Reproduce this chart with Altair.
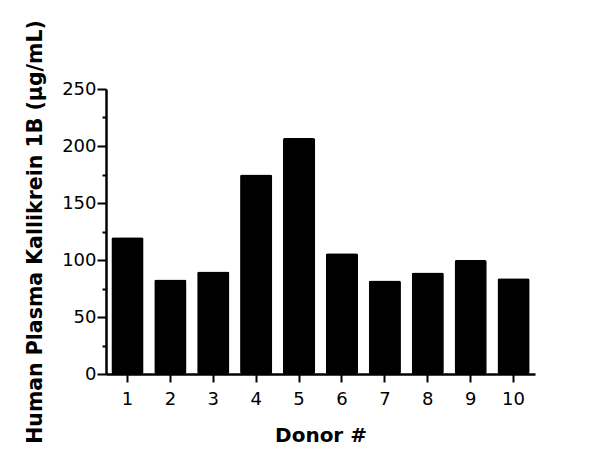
import altair as alt
import pandas as pd

donors = ["1", "2", "3", "4", "5", "6", "7", "8", "9", "10"]
values = [120, 83, 90, 175, 207, 106, 82, 89, 100, 84]
major_ticks = [0, 50, 100, 150, 200, 250]
minor_ticks = [25, 75, 125, 175, 225]

df = pd.DataFrame({"donor": donors, "value": values})

FONT = "DejaVu Sans"

bars = alt.Chart(df).mark_bar(color="black", cornerRadius=2).encode(
    x=alt.X("donor:N", sort=donors,
            scale=alt.Scale(paddingInner=0.25, paddingOuter=0.125),
            axis=alt.Axis(title="Donor #", labelAngle=0, labelFont=FONT, labelFontSize=18,
                          labelColor="black", titleFont=FONT, titleFontSize=20,
                          titleFontWeight="bold", titleColor="black", domainColor="black",
                          domainWidth=2.5, tickColor="black", tickWidth=2, tickSize=8,
                          labelPadding=8, titlePadding=17, grid=False)),
    y=alt.Y("value:Q", scale=alt.Scale(domain=[0, 250], nice=False),
            axis=alt.Axis(title="Human Plasma Kallikrein 1B (µg/mL)", values=major_ticks,
                          orient="left", labelFont=FONT, labelFontSize=18, labelColor="black",
                          titleFont=FONT, titleFontSize=20.5, titleFontWeight="bold",
                          titleColor="black", domainColor="black", domainWidth=2.5,
                          tickColor="black", tickWidth=2, tickSize=9, labelPadding=1,
                          titlePadding=16, grid=False)),
)

minor = alt.Chart(pd.DataFrame({"v": minor_ticks})).mark_point(opacity=0).encode(
    y=alt.Y("v:Q", scale=alt.Scale(domain=[0, 250], nice=False),
            axis=alt.Axis(title=None, values=minor_ticks, orient="left", labels=False,
                          domain=False, tickColor="black", tickWidth=2, tickSize=4,
                          grid=False)),
)

chart = alt.layer(bars, minor).resolve_axis(y="independent").properties(
    width=429, height=285,
    autosize=alt.AutoSizeParams(type="none"),
    padding={"left": 98, "top": 81, "right": 40, "bottom": 90},
).configure_view(stroke=None)

chart.save("out.html", embed_options={"renderer": "svg", "actions": False})
